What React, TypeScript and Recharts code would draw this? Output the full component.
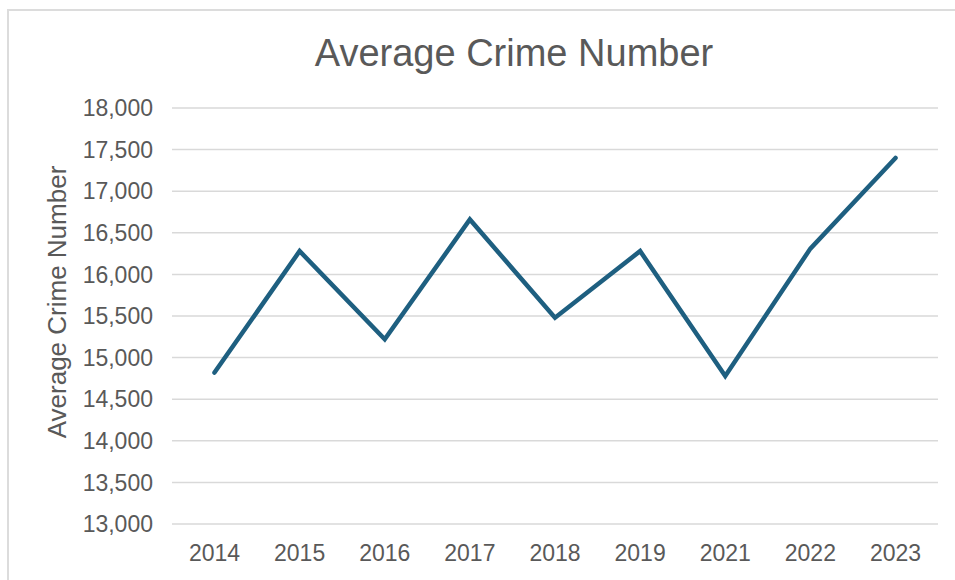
import React from "react";
import { LineChart, Line, XAxis, YAxis, CartesianGrid, Label } from "recharts";

const years = ["2014", "2015", "2016", "2017", "2018", "2019", "2021", "2022", "2023"];
const crimeValues = [14820, 16280, 15220, 16660, 15480, 16280, 14780, 16310, 17400];
const yTicks = [13000, 13500, 14000, 14500, 15000, 15500, 16000, 16500, 17000, 17500, 18000];

const data = years.map((y, i) => ({ year: y, value: crimeValues[i] }));

const FONT = "'Liberation Sans', Arial, Helvetica, sans-serif";
const TEXT = "#595959";

const fmt = (v: number) => v.toLocaleString("en-US");

const YLabel = (props: any) => {
  const vb = props.viewBox || {};
  const cx = vb.x + 57;
  const cy = vb.y + vb.height / 2 - 14;
  return (
    <text
      x={cx}
      y={cy}
      transform={`rotate(-90 ${cx} ${cy})`}
      textAnchor="middle"
      dominantBaseline="central"
      fill={TEXT}
      fontSize={26}
      fontFamily={FONT}
    >
      Average Crime Number
    </text>
  );
};

export default function App() {
  return (
    <div
      style={{
        position: "absolute",
        left: 0,
        top: 0,
        width: 955,
        height: 580,
        overflow: "hidden",
        background: "#fff",
      }}
    >
      <div
        style={{
          position: "absolute",
          left: 7,
          top: 9,
          width: 1000,
          height: 700,
          borderLeft: "2px solid #dcdcdc",
          borderTop: "2px solid #dcdcdc",
        }}
      />
      <div
        style={{
          position: "absolute",
          left: 114,
          top: 34,
          width: 800,
          textAlign: "center",
          fontFamily: FONT,
          fontSize: 38,
          lineHeight: "38px",
          color: TEXT,
        }}
      >
        Average Crime Number
      </div>
      <div style={{ position: "absolute", left: 0, top: 0 }}>
        <LineChart
          width={955}
          height={580}
          data={data}
          margin={{ top: 108, right: 17, bottom: 26, left: 0 }}
        >
          <CartesianGrid vertical={false} stroke="#d9d9d9" strokeWidth={1.5} />
          <XAxis
            dataKey="year"
            axisLine={false}
            tickLine={false}
            height={30}
            tickMargin={15}
            padding={{ left: 42.5, right: 42.5 }}
            tick={{ fill: TEXT, fontSize: 23, fontFamily: FONT }}
          />
          <YAxis
            domain={[13000, 18000]}
            ticks={yTicks}
            interval={0}
            width={172}
            axisLine={false}
            tickLine={false}
            tickMargin={13}
            tickFormatter={fmt}
            tick={{ fill: TEXT, fontSize: 23, fontFamily: FONT }}
          >
            <Label content={<YLabel />} />
          </YAxis>
          <Line
            type="linear"
            dataKey="value"
            stroke="#1e5f80"
            strokeWidth={4.5}
            strokeLinecap="round"
            strokeLinejoin="miter"
            dot={false}
            activeDot={false}
            isAnimationActive={false}
          />
        </LineChart>
      </div>
    </div>
  );
}
